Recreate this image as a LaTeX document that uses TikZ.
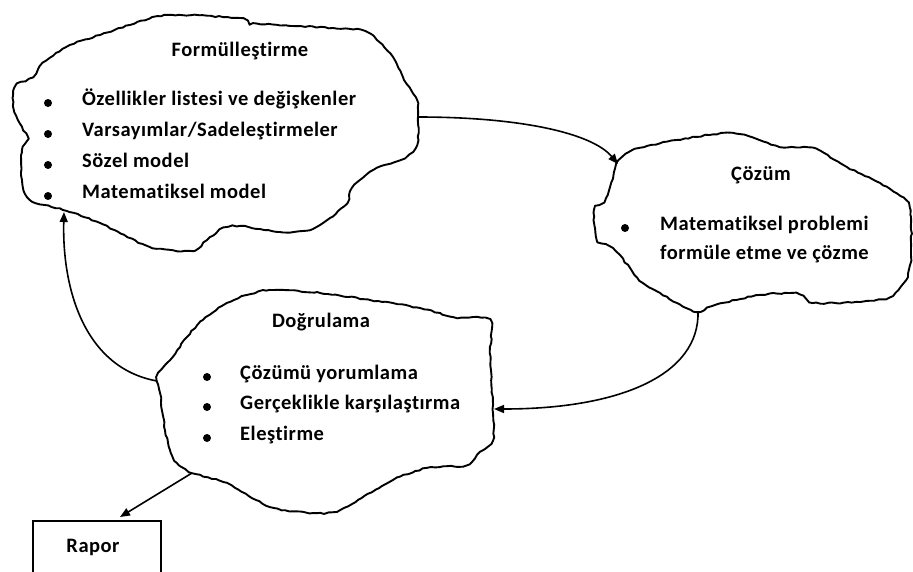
\documentclass[tikz,border=0pt]{standalone}
\usepackage{fontspec}
\setmainfont{Carlito}[LetterSpace=2.5, Ligatures={NoCommon}, RawFeature={-liga}]
\usetikzlibrary{decorations.pathmorphing,arrows.meta}

\begin{document}
\begin{tikzpicture}[x=1pt,y=-1pt,
  cloudline/.style={draw=black, line width=1.9pt, line join=round,
    decorate, decoration={random steps, segment length=4pt, amplitude=0.7pt}},
  link/.style={draw=black, line width=1.6pt,
    -{Triangle[length=10pt,width=8pt]}},
  item/.style={font=\bfseries\fontsize{20.5}{24}\selectfont, anchor=mid west, inner sep=0pt},
  heading/.style={font=\bfseries\fontsize{20.5}{24}\selectfont, inner sep=0pt},
  bul/.style={circle, fill=black, inner sep=0pt, minimum size=8pt},
  reportbox/.style={draw=black, line width=1.7pt, minimum width=128pt,
    minimum height=90pt, anchor=north west, inner sep=0pt}]

\clip (0,0) rectangle (913,571);
\fill[white] (0,0) rectangle (913,571);
\pgfmathsetseed{4172}

% --- Formulation cloud
\draw[cloudline] plot[smooth cycle, tension=0.45] coordinates {
  (167,15) (240,18) (253,23) (333,28) (367,32) (393,57) (403,77) (417,100)
  (418,117) (417,145) (405,158) (385,165) (370,172) (352,188) (347,203)
  (330,218) (310,230) (280,232) (240,226) (223,228) (207,240) (193,251)
  (150,247) (100,223) (67,211) (30,200) (22,180) (22,150) (27,138)
  (14,110) (15,87) (33,77) (43,63) (70,45) (100,35) (130,25)};

% --- Solution cloud
\draw[cloudline] plot[smooth cycle, tension=0.45] coordinates {
  (617,163) (627,153) (640,148) (677,140) (733,133) (780,147) (813,148)
  (847,167) (880,183) (906,200) (911,217) (911,257) (906,280) (890,297)
  (860,302) (813,303) (807,297) (793,293) (760,295) (715,305) (698,312)
  (677,303) (643,283) (630,268) (613,248) (597,240) (594,210) (604,202)
  (610,187) (614,172)};

% --- Validation cloud
\draw[cloudline] plot[smooth cycle, tension=0.45] coordinates {
  (247,295) (270,290) (320,293) (370,300) (420,308) (453,317) (490,320)
  (490,353) (493,413) (493,440) (480,452) (467,465) (427,468) (393,480)
  (340,510) (313,513) (270,507) (227,483) (192,473) (177,463) (170,450)
  (165,430) (160,393) (157,377) (170,360) (187,337) (203,320) (227,303)};

% connection points on the cloud outlines
\coordinate (formOut) at (418,117);
\coordinate (formIn)  at (64,212);
\coordinate (solIn)   at (618,164);
\coordinate (solOut)  at (698,311);
\coordinate (valIn)   at (494,409);
\coordinate (valOut)  at (157,381);
\coordinate (valDown) at (192,473);

% --- texts
\node[heading] (formTitle) at (240,51) {Formülleştirme};
\node[bul] (formBul1) at (48,103) {};
\node[item] (formItem1) at (82,103) {Özellikler listesi ve değişkenler};
\node[bul] (formBul2) at (48,134) {};
\node[item] (formItem2) at (82,134) {Varsayımlar/Sadeleştirmeler};
\node[bul] (formBul3) at (48,165) {};
\node[item] (formItem3) at (82,165) {Sözel model};
\node[bul] (formBul4) at (48,196) {};
\node[item] (formItem4) at (82,196) {Matematiksel\ model};

\node[heading] (solTitle) at (761,175) {Çözüm};
\node[bul] (solBul) at (625,228) {};
\node[item] (solItem1) at (660,228) {Matematiksel\ problemi};
\node[item] (solItem2) at (660,257) {formüle etme ve çözme};

\node[heading] (valTitle) at (321,322) {Doğrulama};
\node[bul] (valBul1) at (207,377) {};
\node[item] (valItem1) at (240,377) {Çözümü yorumlama};
\node[bul] (valBul2) at (207,407) {};
\node[item] (valItem2) at (240,407) {Gerçeklikle\ karşılaştırma};
\node[bul] (valBul3) at (207,438) {};
\node[item] (valItem3) at (240,438) {Eleştirme};

% --- report box
\node[reportbox] (rapor) at (32,520) {};
\node[heading] (raporText) at (93,547) {Rapor};
\coordinate (raporIn) at (120,517);

% --- connectors
\draw[link] (formOut) .. controls (520,117) and (592,133) .. (solIn);
\draw[link] (solOut) .. controls (700,375) and (620,409) .. (valIn);
\draw[link] (valOut) .. controls (85,368) and (62,290) .. (formIn);
\draw[link] (valDown) -- (raporIn);
\end{tikzpicture}
\end{document}
